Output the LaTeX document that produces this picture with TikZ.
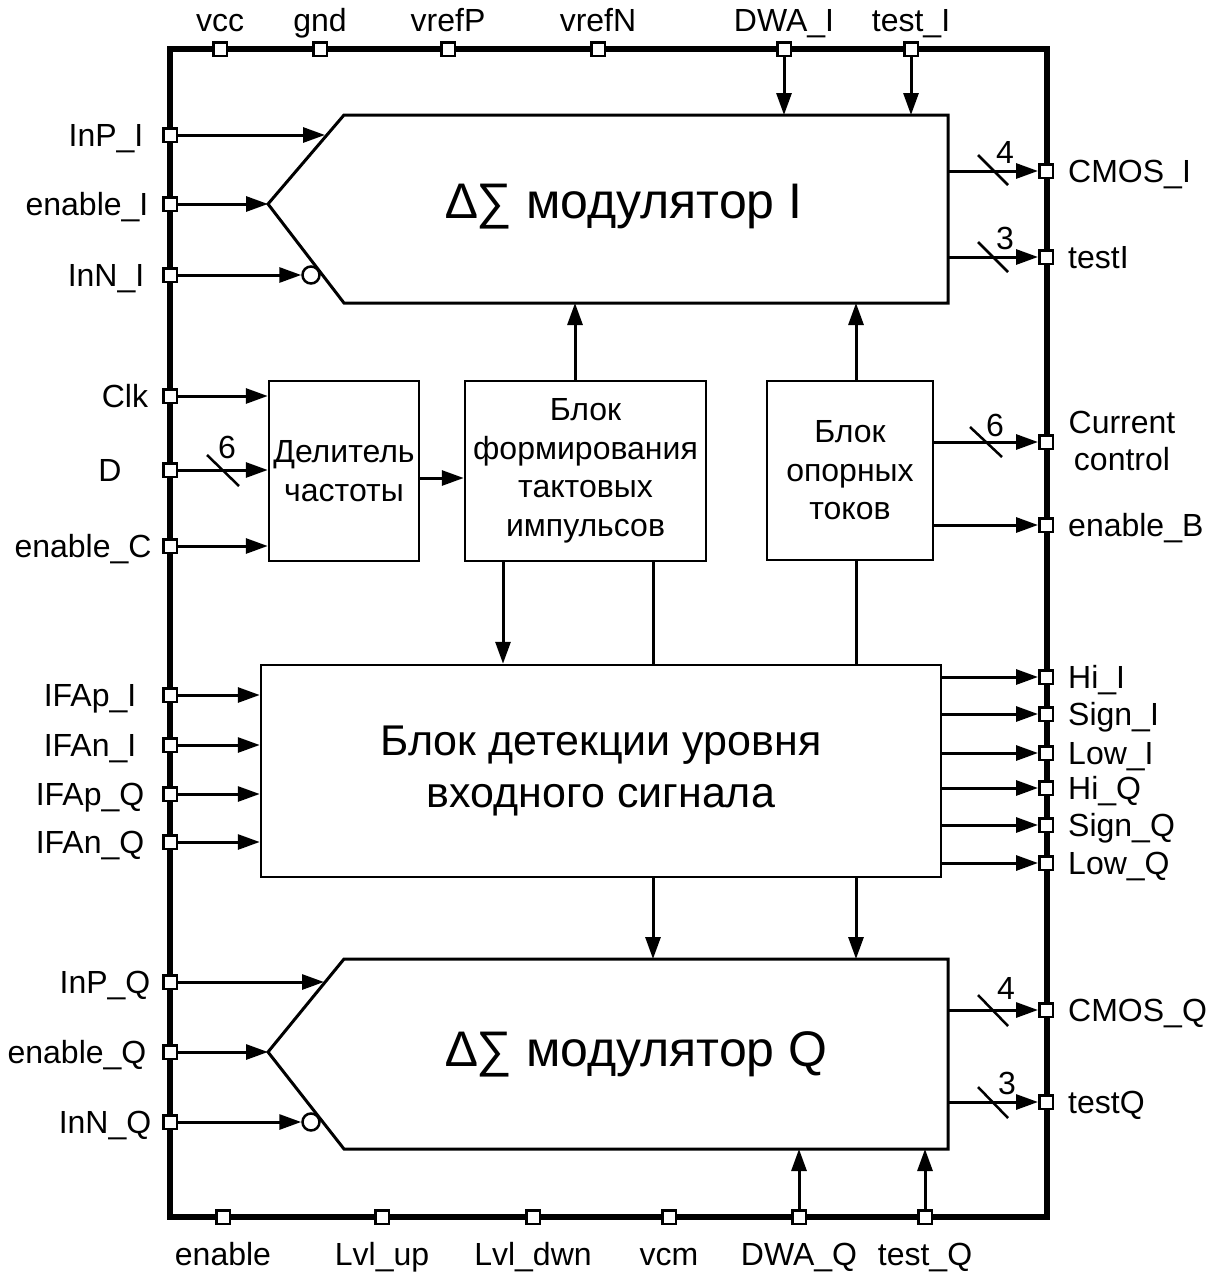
\documentclass[tikz,border=0pt]{standalone}
\usepackage{fontspec}
\setmainfont{Liberation Sans}
\usetikzlibrary{arrows.meta}
\begin{document}
\begin{tikzpicture}[x=1pt,y=-1pt,
  pin/.style={draw, fill=white, minimum size=13.5pt, inner sep=0pt, line width=2.5pt},
  blk/.style={draw, line width=2.5pt, align=center, inner sep=0pt, font=\fontsize{32}{38.5}\selectfont},
  conn/.style={line width=3pt, -{Triangle[length=22pt,width=15pt]}},
  wire/.style={line width=3pt},
  lbl/.style={inner sep=0pt, font=\fontsize{32}{37}\selectfont},
  big/.style={inner sep=0pt, font=\fontsize{50}{56}\selectfont, align=center},
  busmark/.style={line width=2.5pt},
  inv/.style={draw, circle, fill=white, line width=2.5pt, minimum size=17pt, inner sep=0pt},
]
\useasboundingbox (0,0) rectangle (1220,1274);

% outer frame
\draw[line width=5.5pt] (170,49) rectangle (1047,1217);

% modulator I outline
\coordinate (mItl) at (344,115);
\coordinate (mItr) at (948,115);
\coordinate (mIbr) at (948,303);
\coordinate (mIbl) at (344,303);
\coordinate (mItip) at (268,204);
\draw[line width=3pt, line join=miter] (mItl) -- (mItr) -- (mIbr) -- (mIbl) -- (mItip) -- cycle;
\node[big, anchor=west] (mItext) at (446,207) {∆∑ модулятор I};

% modulator Q outline
\coordinate (mQtl) at (344,959);
\coordinate (mQtr) at (948,959);
\coordinate (mQbr) at (948,1149);
\coordinate (mQbl) at (344,1149);
\coordinate (mQtip) at (268,1052);
\draw[line width=3pt, line join=miter] (mQtl) -- (mQtr) -- (mQbr) -- (mQbl) -- (mQtip) -- cycle;
\node[big, anchor=west] (mQtext) at (446,1054) {∆∑ модулятор Q};

% middle blocks
\node[blk, minimum width=150pt, minimum height=180pt] (div) at (344,471) {Делитель\\частоты};
\node[blk, minimum width=241pt, minimum height=180pt] (form) at (585.5,471) {Блок\\формирования\\тактовых\\импульсов};
\node[blk, minimum width=166pt, minimum height=179pt] (opor) at (850,470.5) {Блок\\опорных\\токов};
\node[blk, font=\fontsize{43}{52}\selectfont, minimum width=680pt, minimum height=212pt] (det) at (601,771) {Блок детекции уровня\\входного сигнала};

% inversion circles
\node[inv] (cInNI) at (311,275) {};
\node[inv] (cInNQ) at (311,1122) {};

% top pins
\foreach \nm/\x/\txt in {vcc/220/vcc, gnd/320/gnd, vrefP/448/vrefP, vrefN/598/vrefN, DWAI/784/DWA\_I, testI/911/test\_I} {
  \node[pin] (T\nm) at (\x,49) {};
  \node[lbl, anchor=base] (LT\nm) at (\x,31) {\txt};
}
% bottom pins
\foreach \nm/\x/\txt in {enable/223/enable, Lvlup/382/Lvl\_up, Lvldwn/533/Lvl\_dwn, vcm/669/vcm, DWAQ/799/DWA\_Q, testQ/925/test\_Q} {
  \node[pin] (B\nm) at (\x,1217) {};
  \node[lbl, anchor=base] (LB\nm) at (\x,1265) {\txt};
}
% left pins
\foreach \nm/\y/\lx/\txt in {InPI/135/106/InP\_I, enI/204/87/enable\_I, InNI/275/106/InN\_I, Clk/396/125/Clk, D/470/110/D, enC/546/83/enable\_C, IFApI/695/90/IFAp\_I, IFAnI/745/90/IFAn\_I, IFApQ/794/90/IFAp\_Q, IFAnQ/842/90/IFAn\_Q, InPQ/982/105/InP\_Q, enQ/1052/77/enable\_Q, InNQ/1122/105/InN\_Q} {
  \node[pin] (L\nm) at (170,\y) {};
  \node[lbl, anchor=base] (LL\nm) at (\lx,\y+11) {\txt};
}
% right pins
\foreach \nm/\y/\txt in {CMOSI/171/CMOS\_I, testI/257/testI, enB/525/enable\_B, HiI/677/Hi\_I, SignI/714/Sign\_I, LowI/753/Low\_I, HiQ/788/Hi\_Q, SignQ/825/Sign\_Q, LowQ/863/Low\_Q, CMOSQ/1010/CMOS\_Q, testQ/1102/testQ} {
  \node[pin] (R\nm) at (1046,\y) {};
  \node[lbl, anchor=base west] (LR\nm) at (1068,\y+11) {\txt};
}
\node[pin] (RCur) at (1046,442) {};
\node[lbl, align=center] (LRCur) at (1122,441) {Current\\control};

% modulator I connections
\coordinate (mIinP) at (325,135);
\draw[conn] (TDWAI) -- (TDWAI |- mItl);
\draw[conn] (TtestI) -- (TtestI |- mItl);
\draw[conn] (LInPI) -- (mIinP);
\draw[conn] (LenI) -- (mItip);
\draw[conn] (LInNI) -- (cInNI);
\draw[conn] (mItr |- RCMOSI) -- (RCMOSI);
\draw[conn] (mItr |- RtestI) -- (RtestI);
\draw[busmark] (978,155) -- (1008,185);
\node[lbl] (n4a) at (1005,152) {4};
\draw[busmark] (978,242) -- (1008,272);
\node[lbl] (n3a) at (1005,238) {3};

% middle connections
\draw[conn] (LClk) -- (LClk -| div.west);
\draw[conn] (LD) -- (LD -| div.west);
\draw[busmark] (207,455) -- (239,486);
\node[lbl] (n6a) at (227,447) {6};
\draw[conn] (LenC) -- (LenC -| div.west);
\draw[conn] (div.east |- 0,478) -- (form.west |- 0,478);
\draw[conn] (form.north -| 575,0) -- (575,0 |- mIbl);
\draw[conn] (opor.north -| 856,0) -- (856,0 |- mIbl);
\draw[conn] (opor.east |- RCur) -- (RCur);
\draw[busmark] (970,427) -- (1002,457);
\node[lbl] (n6b) at (995,425) {6};
\draw[conn] (opor.east |- RenB) -- (RenB);
\draw[conn] (form.south -| 503,0) -- (503,0 |- det.north);
\draw[wire] (form.south -| 653,0) -- (653,0 |- det.north);
\draw[wire] (opor.south -| 856,0) -- (856,0 |- det.north);

% detection block connections
\foreach \p in {IFApI, IFAnI, IFApQ, IFAnQ} {
  \draw[conn] (L\p) -- (L\p -| det.west);
}
\foreach \p in {HiI, SignI, LowI, HiQ, SignQ, LowQ} {
  \draw[conn] (det.east |- R\p) -- (R\p);
}
\draw[conn] (det.south -| 653,0) -- (653,0 |- mQtl);
\draw[conn] (det.south -| 856,0) -- (856,0 |- mQtl);

% modulator Q connections
\coordinate (mQinP) at (324,982);
\draw[conn] (LInPQ) -- (mQinP);
\draw[conn] (LenQ) -- (mQtip);
\draw[conn] (LInNQ) -- (cInNQ);
\draw[conn] (mQtr |- RCMOSQ) -- (RCMOSQ);
\draw[conn] (mQtr |- RtestQ) -- (RtestQ);
\draw[busmark] (978,995) -- (1008,1026);
\node[lbl] (n4b) at (1006,988) {4};
\draw[busmark] (978,1087) -- (1008,1118);
\node[lbl] (n3b) at (1007,1083) {3};
\draw[conn] (BDWAQ) -- (BDWAQ |- mQbl);
\draw[conn] (BtestQ) -- (BtestQ |- mQbl);
\end{tikzpicture}
\end{document}
